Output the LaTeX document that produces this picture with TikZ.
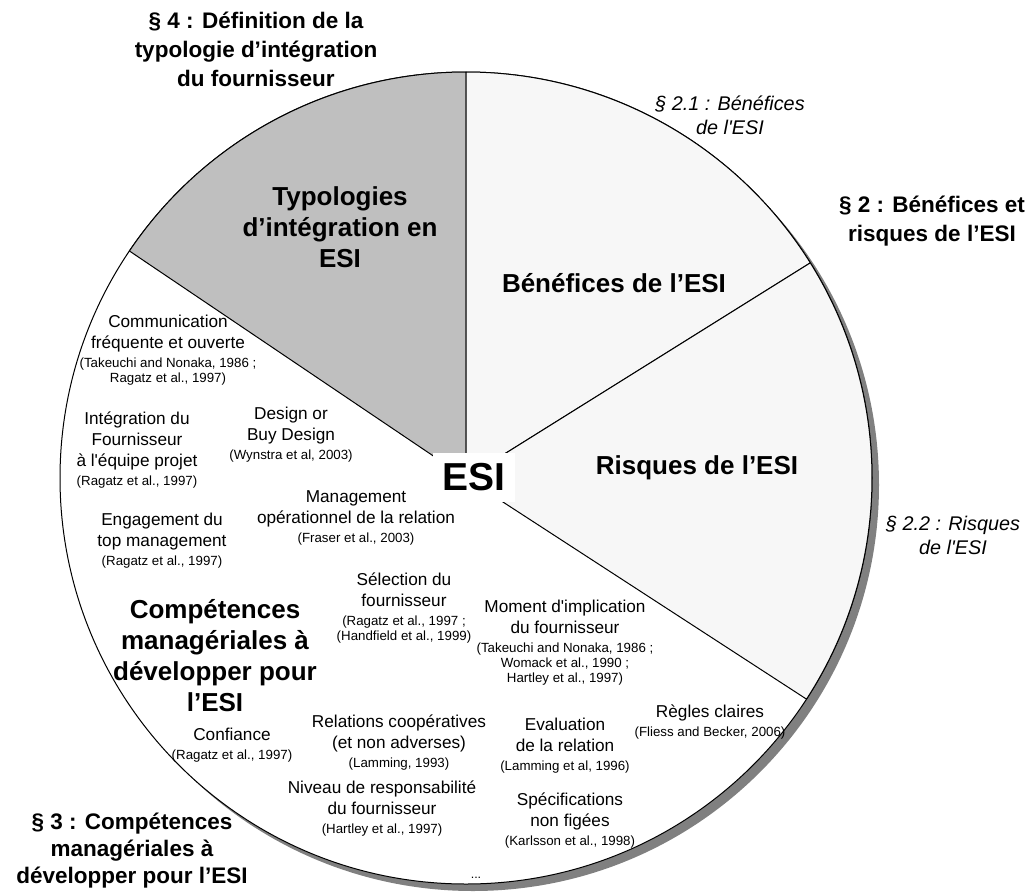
\documentclass[tikz,border=0pt]{standalone}
\usepackage{fontspec}
\setmainfont{Liberation Sans}[Ligatures=TeXOff]
\definecolor{sectorgray}{HTML}{BFBFBF}
\definecolor{sectorlight}{HTML}{F7F7F7}
\definecolor{shadowgray}{HTML}{808080}
\tikzset{
  sectorline/.style={draw=black, line width=1pt, line join=round},
  biglabel/.style={align=center, inner sep=0pt, font=\bfseries\fontsize{26}{31}\selectfont},
  outerlabel/.style={align=center, inner sep=0pt, font=\bfseries\fontsize{22.5}{29}\selectfont},
  outerit/.style={align=center, inner sep=0pt, font=\itshape\fontsize{19.8}{24}\selectfont},
  item/.style={align=center, inner sep=0pt, font=\fontsize{17.2}{21}\selectfont},
}
\newcommand{\cit}[1]{{\fontsize{13.3}{15}\selectfont #1}}
\begin{document}
\begin{tikzpicture}[x=1pt,y=1pt]
\useasboundingbox (0,0) rectangle (1026,-895);
\coordinate (c) at (466,-478);
\coordinate (cs) at (473,-485);
% shadow and disc
\fill[shadowgray] (cs) circle (406);
\filldraw[sectorline, fill=white] (c) circle (406);
% sectors
\filldraw[sectorline, fill=sectorgray] (c) -- ++(146:406) arc[start angle=146, end angle=90, radius=406] -- cycle;
\filldraw[sectorline, fill=sectorlight] (c) -- ++(90:406) arc[start angle=90, end angle=32, radius=406] -- cycle;
\filldraw[sectorline, fill=sectorlight] (c) -- ++(32:406) arc[start angle=32, end angle=-33, radius=406] -- cycle;
% centre
\node[fill=white, minimum width=82, minimum height=49, inner sep=0pt, font=\bfseries\fontsize{39}{39}\selectfont] (esi) at (474,-477) {ESI};
% big labels
\node[biglabel] (typo) at (340,-227) {Typologies\\d’intégration en\\ESI};
\node[biglabel] (bene) at (614,-283) {Bénéfices de l’ESI};
\node[biglabel] (risq) at (697,-468) {Risques de l’ESI};
\node[biglabel] (comp) at (215,-656) {Compétences\\managériales à\\développer pour\\l’ESI};
% outer labels
\node[outerlabel] (s4) at (256,-49) {§ 4 : Définition de la\\typologie d’intégration\\du fournisseur};
\node[outerlabel] (s2) at (932,-221) {§ 2 : Bénéfices et\\risques de l’ESI};
\node[outerit] (s21) at (730,-115) {§ 2.1 : Bénéfices\\de l'ESI};
\node[outerit] (s22) at (953,-535) {§ 2.2 : Risques\\de l'ESI};
\node[outerlabel, font=\bfseries\fontsize{22.5}{27}\selectfont] (s3) at (132,-851) {§ 3 : Compétences\\managériales à\\développer pour l’ESI};
% items
\node[item] (comm) at (168,-350) {Communication\\fréquente et ouverte\\[-2pt]\cit{(Takeuchi and Nonaka, 1986 ;}\\[-6pt]\cit{Ragatz et al., 1997)}};
\node[item] (integ) at (137,-450) {Intégration du\\Fournisseur\\à l'équipe projet\\[-2pt]\cit{(Ragatz et al., 1997)}};
\node[item] (design) at (291,-435) {Design or\\Buy Design\\[-2pt]\cit{(Wynstra et al, 2003)}};
\node[item] (mgmt) at (356,-518) {Management\\opérationnel de la relation\\[-2pt]\cit{(Fraser et al., 2003)}};
\node[item] (engag) at (162,-541) {Engagement du\\top management\\[-2pt]\cit{(Ragatz et al., 1997)}};
\node[item] (select) at (404,-608) {Sélection du\\fournisseur\\[-2pt]\cit{(Ragatz et al., 1997 ;}\\[-6pt]\cit{(Handfield et al., 1999)}};
\node[item] (moment) at (565,-643) {Moment d'implication\\du fournisseur\\[-2pt]\cit{(Takeuchi and Nonaka, 1986 ;}\\[-6pt]\cit{Womack et al., 1990 ;}\\[-6pt]\cit{Hartley et al., 1997)}};
\node[item] (relat) at (399,-743) {Relations coopératives\\(et non adverses)\\[-2pt]\cit{(Lamming, 1993)}};
\node[item] (confi) at (232,-745) {Confiance\\[-2pt]\cit{(Ragatz et al., 1997)}};
\node[item] (evalr) at (565,-746) {Evaluation\\de la relation\\[-2pt]\cit{(Lamming et al, 1996)}};
\node[item] (regles) at (710,-722) {Règles claires\\[-2pt]\cit{(Fliess and Becker, 2006)}};
\node[item] (niveau) at (382,-809) {Niveau de responsabilité\\du fournisseur\\[-2pt]\cit{(Hartley et al., 1997)}};
\node[item] (spec) at (570,-821) {Spécifications\\non figées\\[-2pt]\cit{(Karlsson et al., 1998)}};
\node[inner sep=0pt, font=\fontsize{12.5}{15}\selectfont] (dots) at (476,-878) {...};
\end{tikzpicture}
\end{document}
